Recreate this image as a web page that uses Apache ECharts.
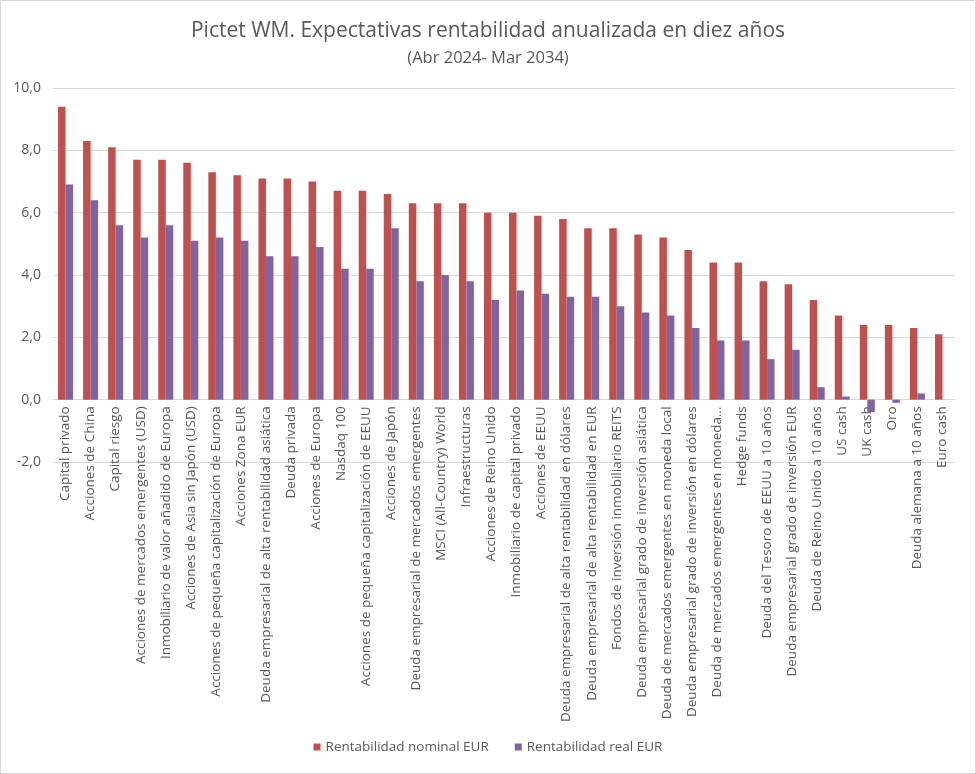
<!DOCTYPE html>
<html>
<head>
<meta charset="utf-8">
<script src="https://cdn.jsdelivr.net/npm/echarts@6/dist/echarts.min.js"></script>
<style>
html,body{margin:0;padding:0;background:#fff;}
#c{width:974px;height:772px;border:1px solid #d9d9d9;}
</style>
</head>
<body>
<div id="c"></div>
<script>
const categories = [
  "Capital privado",
  "Acciones de China",
  "Capital riesgo",
  "Acciones de mercados emergentes (USD)",
  "Inmobiliario de valor añadido de Europa",
  "Acciones de Asia sin Japón (USD)",
  "Acciones de pequeña capitalización de Europa",
  "Acciones Zona EUR",
  "Deuda empresarial de alta rentabilidad asiática",
  "Deuda privada",
  "Acciones de Europa",
  "Nasdaq 100",
  "Acciones de pequeña capitalización de EEUU",
  "Acciones de Japón",
  "Deuda empresarial de mercados emergentes",
  "MSCI (All-Country) World",
  "Infraestructuras",
  "Acciones de Reino Unido",
  "Inmobiliario de capital privado",
  "Acciones de EEUU",
  "Deuda empresarial de alta rentabilidad en dólares",
  "Deuda empresarial de alta rentabilidad en EUR",
  "Fondos de inversión inmobiliario REITS",
  "Deuda empresarial grado de inversión asiática",
  "Deuda de mercados emergentes en moneda local",
  "Deuda empresarial grado de inversión en dólares",
  "Deuda de mercados emergentes en moneda...",
  "Hedge funds",
  "Deuda del Tesoro de EEUU a 10 años",
  "Deuda empresarial grado de inversión EUR",
  "Deuda de Reino Unido a 10 años",
  "US cash",
  "UK cash",
  "Oro",
  "Deuda alemana a 10 años",
  "Euro cash"
];
const nominalEUR = [9.4,8.3,8.1,7.7,7.7,7.6,7.3,7.2,7.1,7.1,7.0,6.7,6.7,6.6,6.3,6.3,6.3,6.0,6.0,5.9,5.8,5.5,5.5,5.3,5.2,4.8,4.4,4.4,3.8,3.7,3.2,2.7,2.4,2.4,2.3,2.1];
const realEUR    = [6.9,6.4,5.6,5.2,5.6,5.1,5.2,5.1,4.6,4.6,4.9,4.2,4.2,5.5,3.8,4.0,3.8,3.2,3.5,3.4,3.3,3.3,3.0,2.8,2.7,2.3,1.9,1.9,1.3,1.6,0.4,0.1,-0.4,-0.1,0.2,0.0];
const seriesNames = ["Rentabilidad nominal EUR","Rentabilidad real EUR"];
const yMin = -2, yMax = 10, yStep = 2;

const FONT = "Open Sans";
const gridTop = 87, gridBottom = 311;
const plotH = 774 - gridTop - gridBottom;
const zeroShift = plotH * (0 - yMin) / (yMax - yMin);

const chart = echarts.init(document.getElementById('c'), null, {renderer:'canvas'});
chart.setOption({
  animation:false,
  backgroundColor:'#fff',
  textStyle:{fontFamily:FONT},
  title:{
    text:"Pictet WM. Expectativas rentabilidad anualizada en diez años",
    subtext:"(Abr 2024- Mar 2034)",
    left:'center', top:15, itemGap:8,
    textStyle:{fontFamily:FONT,fontSize:21,fontWeight:'normal',color:'#595959'},
    subtextStyle:{fontFamily:FONT,fontSize:16.5,color:'#595959'}
  },
  legend:{
    data:seriesNames,
    bottom:14, left:'center',
    icon:'rect', itemWidth:7, itemHeight:7, itemGap:26,
    textStyle:{fontFamily:FONT,fontSize:13.5,color:'#595959'}
  },
  grid:{left:52,right:20,top:gridTop,bottom:gridBottom,containLabel:false},
  xAxis:{
    type:'category',
    data:categories,
    offset:-zeroShift,
    axisLine:{onZero:false,lineStyle:{color:'#d9d9d9'}},
    axisTick:{show:false},
    axisLabel:{rotate:90,interval:0,fontSize:13.5,color:'#595959',fontFamily:FONT,margin:7}
  },
  yAxis:{
    type:'value', min:yMin, max:yMax, interval:yStep,
    axisLine:{show:false}, axisTick:{show:false},
    splitLine:{lineStyle:{color:'#d9d9d9',width:1}},
    axisLabel:{fontSize:14,color:'#595959',fontFamily:FONT,margin:12,
      formatter:v=>v.toFixed(1).replace('.',',')}
  },
  series:[
    {name:seriesNames[0],type:'bar',data:nominalEUR,barWidth:7.5,barGap:'0%',itemStyle:{color:'#C0504D'}},
    {name:seriesNames[1],type:'bar',data:realEUR,barWidth:7.5,barGap:'0%',itemStyle:{color:'#8064A2'}}
  ]
});
</script>
</body>
</html>
